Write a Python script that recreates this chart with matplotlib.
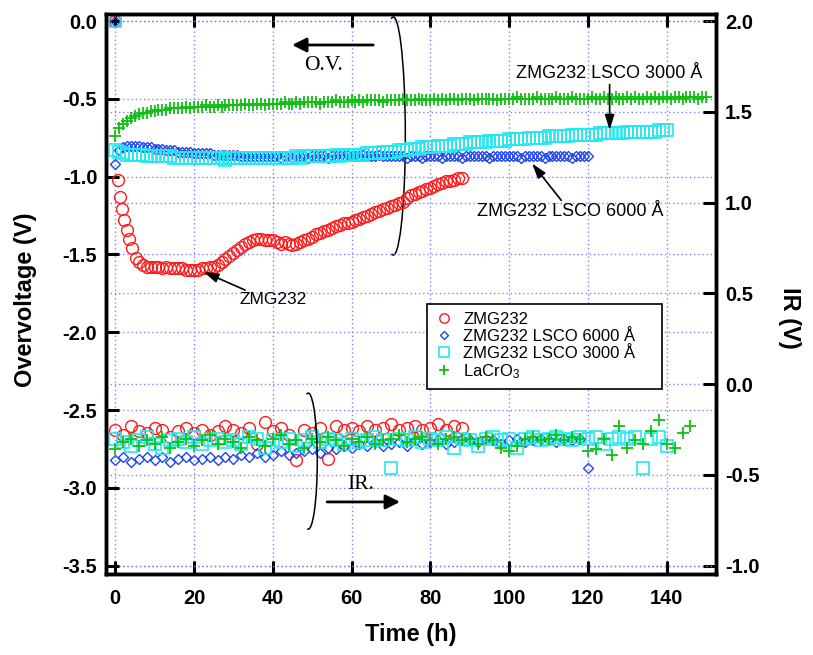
import numpy as np
import matplotlib
matplotlib.use("Agg")
import matplotlib.pyplot as plt
from matplotlib.patches import Arc

plt.rcParams['font.family'] = ['Liberation Sans', 'DejaVu Sans']
plt.rcParams['axes.unicode_minus'] = False
plt.rcParams['mathtext.fontset'] = 'custom'
plt.rcParams['mathtext.rm'] = 'Liberation Sans'
plt.rcParams['mathtext.it'] = 'Liberation Sans'

# ---- overvoltage data (left axis) ----
red_t = [0.0, 0.8, 1.3, 1.8, 2.3, 2.9, 3.6, 4.4, 5.2, 6.1, 7.0] + list(range(8, 89))
red_ov = [0.0, -1.02, -1.13, -1.21, -1.28, -1.34, -1.40, -1.46, -1.52, -1.55, -1.57,
          -1.58, -1.58, -1.58, -1.58, -1.59, -1.58, -1.59, -1.59, -1.59, -1.59,
          -1.60, -1.60, -1.60, -1.60, -1.59, -1.59, -1.58, -1.58, -1.57, -1.55,
          -1.53, -1.51, -1.49, -1.47, -1.45, -1.43, -1.42, -1.41, -1.40, -1.40,
          -1.41, -1.41, -1.41, -1.42, -1.43, -1.42, -1.43, -1.44, -1.43, -1.42,
          -1.41, -1.40, -1.39, -1.37, -1.36, -1.35, -1.34, -1.33, -1.32, -1.31,
          -1.30, -1.30, -1.29, -1.28, -1.27, -1.26, -1.25, -1.24, -1.23, -1.22,
          -1.21, -1.20, -1.19, -1.18, -1.17, -1.16, -1.14, -1.12, -1.11, -1.10,
          -1.09, -1.08, -1.07, -1.06, -1.05, -1.04, -1.03, -1.03, -1.02, -1.01, -1.01]

blue_t = [0, 0] + list(range(1, 121))
blue_ov = [0.0, -0.92,
           -0.83, -0.81, -0.80, -0.80, -0.80, -0.80, -0.81, -0.81, -0.81, -0.82,
           -0.82, -0.82, -0.83, -0.83, -0.83, -0.84, -0.84, -0.84, -0.84, -0.85,
           -0.85, -0.85, -0.85, -0.85, -0.86, -0.86, -0.86, -0.86, -0.86, -0.86,
           -0.86, -0.87, -0.87, -0.87, -0.87, -0.87, -0.87, -0.87, -0.87, -0.87,
           -0.87, -0.88, -0.87, -0.87, -0.88, -0.87, -0.87, -0.87, -0.88, -0.87,
           -0.87, -0.87, -0.87, -0.88, -0.87, -0.87, -0.87, -0.87, -0.86, -0.87,
           -0.87, -0.87, -0.86, -0.87, -0.87, -0.87, -0.86, -0.87, -0.87, -0.87,
           -0.87, -0.87, -0.87, -0.88, -0.87, -0.87, -0.87, -0.88, -0.87, -0.87,
           -0.87, -0.87, -0.88, -0.87, -0.87, -0.87, -0.87, -0.88, -0.87, -0.87,
           -0.87, -0.87, -0.87, -0.87, -0.88, -0.87, -0.87, -0.87, -0.87, -0.87,
           -0.87, -0.87, -0.88, -0.87, -0.87, -0.87, -0.87, -0.87, -0.88, -0.87,
           -0.87, -0.87, -0.87, -0.87, -0.87, -0.88, -0.87, -0.87, -0.87, -0.87]

cyan_t = [0, 0] + list(range(1, 141))
cyan_ov = [0.0, -0.83,
           -0.84, -0.85, -0.86, -0.86, -0.86, -0.86, -0.86, -0.87, -0.87, -0.87,
           -0.87, -0.87, -0.87, -0.87, -0.88, -0.88, -0.88, -0.88, -0.88, -0.88,
           -0.88, -0.88, -0.88, -0.88, -0.88, -0.88, -0.88, -0.89, -0.88, -0.88,
           -0.88, -0.88, -0.88, -0.88, -0.88, -0.88, -0.88, -0.88, -0.88, -0.88,
           -0.88, -0.88, -0.88, -0.88, -0.88, -0.87, -0.88, -0.87, -0.87, -0.87,
           -0.87, -0.87, -0.87, -0.87, -0.87, -0.86, -0.87, -0.86, -0.86, -0.86,
           -0.86, -0.86, -0.86, -0.85, -0.85, -0.85, -0.85, -0.84, -0.84, -0.84,
           -0.84, -0.83, -0.83, -0.83, -0.82, -0.82, -0.82, -0.81, -0.81, -0.81,
           -0.81, -0.80, -0.80, -0.80, -0.80, -0.79, -0.79, -0.79, -0.79, -0.78,
           -0.78, -0.78, -0.78, -0.78, -0.77, -0.77, -0.77, -0.77, -0.77, -0.76,
           -0.76, -0.76, -0.76, -0.76, -0.75, -0.75, -0.75, -0.75, -0.75, -0.74,
           -0.74, -0.74, -0.74, -0.74, -0.74, -0.73, -0.73, -0.73, -0.73, -0.73,
           -0.73, -0.73, -0.72, -0.72, -0.72, -0.72, -0.72, -0.72, -0.72, -0.71,
           -0.71, -0.71, -0.71, -0.71, -0.71, -0.71, -0.71, -0.70, -0.70, -0.70]

green_t = list(range(0, 151))
green_ov = [-0.74, -0.69, -0.66, -0.64, -0.62, -0.61, -0.60, -0.59, -0.59, -0.58,
            -0.58, -0.57, -0.57, -0.57, -0.56, -0.56, -0.56, -0.56, -0.55, -0.56,
            -0.55, -0.55, -0.55, -0.54, -0.55, -0.55, -0.54, -0.55, -0.54, -0.54,
            -0.54, -0.54, -0.54, -0.53, -0.54, -0.54, -0.53, -0.53, -0.54, -0.53,
            -0.53, -0.53, -0.53, -0.52, -0.53, -0.53, -0.52, -0.53, -0.52, -0.52,
            -0.52, -0.52, -0.53, -0.52, -0.52, -0.52, -0.51, -0.52, -0.52, -0.52,
            -0.51, -0.52, -0.51, -0.52, -0.51, -0.51, -0.51, -0.51, -0.52, -0.51,
            -0.51, -0.51, -0.51, -0.50, -0.51, -0.51, -0.51, -0.50, -0.51, -0.51,
            -0.51, -0.50, -0.51, -0.50, -0.51, -0.50, -0.50, -0.51, -0.50, -0.50,
            -0.50, -0.51, -0.50, -0.50, -0.50, -0.50, -0.50, -0.51, -0.50, -0.50,
            -0.50, -0.50, -0.49, -0.50, -0.50, -0.50, -0.50, -0.49, -0.50, -0.50,
            -0.50, -0.50, -0.49, -0.50, -0.50, -0.50, -0.49, -0.50, -0.50, -0.50,
            -0.50, -0.49, -0.50, -0.50, -0.49, -0.50, -0.50, -0.49, -0.50, -0.50,
            -0.49, -0.50, -0.49, -0.50, -0.50, -0.49, -0.50, -0.49, -0.50, -0.49,
            -0.49, -0.50, -0.49, -0.49, -0.50, -0.49, -0.49, -0.49, -0.50, -0.49, -0.49]

# ---- IR data (right axis), one point every 2 h ----
red_ir_t = list(range(0, 89, 2))
red_ir = [-0.25, -0.28, -0.23, -0.26, -0.27, -0.24, -0.25, -0.29, -0.26, -0.24,
          -0.27, -0.25, -0.28, -0.26, -0.23, -0.25, -0.27, -0.24, -0.33, -0.21,
          -0.26, -0.24, -0.28, -0.42, -0.25, -0.27, -0.24, -0.41, -0.23, -0.25,
          -0.24, -0.26, -0.23, -0.25, -0.24, -0.22, -0.25, -0.24, -0.23, -0.25,
          -0.24, -0.22, -0.25, -0.23, -0.24]

blue_ir_t = list(range(0, 121, 2))
blue_ir = [-0.42, -0.40, -0.43, -0.41, -0.40, -0.42, -0.40, -0.43, -0.41, -0.40,
           -0.42, -0.41, -0.40, -0.42, -0.40,
           -0.41, -0.39, -0.40, -0.38, -0.40, -0.39, -0.37, -0.39, -0.38, -0.37,
           -0.36, -0.38, -0.35, -0.36, -0.34,
           -0.35, -0.33, -0.34, -0.32, -0.34, -0.33, -0.32, -0.34, -0.31, -0.33,
           -0.32, -0.31, -0.33, -0.32, -0.30,
           -0.31, -0.32, -0.30, -0.31, -0.33, -0.31, -0.30, -0.32, -0.31, -0.30,
           -0.31, -0.32, -0.30, -0.31, -0.30,
           -0.46]

cyan_ir_t = list(range(0, 141, 2))
cyan_ir = [-0.30, -0.32, -0.34, -0.31, -0.29, -0.33, -0.35, -0.31, -0.30, -0.32,
           -0.29, -0.33, -0.31, -0.30, -0.32,
           -0.31, -0.33, -0.29, -0.30, -0.35, -0.31, -0.32, -0.30, -0.34, -0.31,
           -0.29, -0.32, -0.30, -0.31, -0.33,
           -0.30, -0.32, -0.31, -0.29, -0.31, -0.46, -0.30, -0.31, -0.29, -0.32,
           -0.30, -0.31, -0.29, -0.35, -0.30,
           -0.31, -0.34, -0.30, -0.29, -0.31, -0.30, -0.35, -0.30, -0.29, -0.31,
           -0.30, -0.29, -0.30, -0.31, -0.29,
           -0.30, -0.29, -0.33, -0.30, -0.29, -0.30, -0.29, -0.46, -0.30, -0.29, -0.34]

green_ir_t = list(range(0, 147, 2))
green_ir = [-0.36, -0.32, -0.30, -0.34, -0.31, -0.33, -0.29, -0.35, -0.32, -0.30,
            -0.34, -0.31, -0.28, -0.33, -0.30,
            -0.32, -0.35, -0.29, -0.31, -0.34, -0.30, -0.28, -0.33, -0.31, -0.35,
            -0.30, -0.32, -0.29, -0.31, -0.34,
            -0.30, -0.32, -0.29, -0.33, -0.31, -0.30, -0.28, -0.32, -0.30, -0.29,
            -0.31, -0.33, -0.30, -0.29, -0.31,
            -0.30, -0.33, -0.29, -0.31, -0.35, -0.37, -0.34, -0.30, -0.29, -0.31,
            -0.30, -0.28, -0.31, -0.29, -0.30,
            -0.37, -0.36, -0.30, -0.39, -0.23, -0.35, -0.31, -0.33, -0.26, -0.20,
            -0.33, -0.35, -0.27, -0.23]

labels = ['ZMG232', 'ZMG232 LSCO 6000 Å', 'ZMG232 LSCO 3000 Å', 'LaCrO$_3$']
red, blue, cyan, green = '#ff1a1a', '#1f45f0', '#22e8f0', '#10c010'
gridc = '#8080ff'

fig = plt.figure(figsize=(8.13, 6.55), dpi=100)
ax = fig.add_axes([0.130, 0.1237, 0.7507, 0.8549])
ax2 = ax.twinx()
ax.set_zorder(ax2.get_zorder() + 1)
ax.patch.set_visible(False)

# overvoltage
ax.plot(red_t, red_ov, 'o', ls='none', mfc='none', mec=red, ms=8.5, mew=1.0, label=labels[0])
ax.plot(blue_t, blue_ov, 'D', ls='none', mfc='none', mec=blue, ms=5.5, mew=1.0, label=labels[1])
ax.plot(cyan_t, cyan_ov, 's', ls='none', mfc='none', mec=cyan, ms=9, mew=1.2, label=labels[2])
ax.plot(green_t, green_ov, '+', ls='none', color=green, ms=9, mew=1.3, label=labels[3])

# IR
ax2.plot(red_ir_t, red_ir, 'o', ls='none', mfc='none', mec=red, ms=8.5, mew=1.0)
ax2.plot(blue_ir_t, blue_ir, 'D', ls='none', mfc='none', mec=blue, ms=5.5, mew=1.0)
ax2.plot(cyan_ir_t, cyan_ir, 's', ls='none', mfc='none', mec=cyan, ms=8.5, mew=1.2)
ax2.plot(green_ir_t, green_ir, '+', ls='none', color=green, ms=9, mew=1.3)

ax.set_xlim(-2.4, 152.5)
ax.set_ylim(-3.553, 0.045)
ax2.set_ylim(-1.0457, 2.0385)
ax.set_xticks(np.arange(0, 141, 20))
ax.set_yticks(np.arange(-3.5, 0.01, 0.5))
ax2.set_yticks(np.arange(-1.0, 2.01, 0.5))
ax.set_yticklabels(['%.1f' % v for v in np.arange(-3.5, 0.01, 0.5)])
ax2.set_yticklabels(['%.1f' % v for v in np.arange(-1.0, 2.01, 0.5)])

ax.grid(True, color=gridc, ls=(0, (1, 2)), lw=1)
ax2.grid(True, axis='y', color=gridc, ls=(0, (1, 2)), lw=1)

ax.tick_params(direction='in', length=9.5, width=2.2, labelsize=14.5, top=True, right=False, pad=6)
ax.tick_params(axis='x', pad=11)
ax2.tick_params(direction='in', length=9.5, width=2.2, labelsize=14.5, left=False, pad=6.5)
for lbl in ax.get_xticklabels() + ax.get_yticklabels() + ax2.get_yticklabels():
    lbl.set_fontweight('bold')
for a in (ax, ax2):
    for s in a.spines.values():
        s.set_linewidth(2.5)

ax.set_xlabel('Time (h)', fontsize=17, fontweight='bold')
ax.set_ylabel('Overvoltage (V)', fontsize=17, fontweight='bold')
ax2.set_ylabel('IR (V)', fontsize=17, fontweight='bold', rotation=270)
ax.xaxis.set_label_coords(0.5, -0.087)
ax.yaxis.set_label_coords(-0.1126, 0.489)
ax2.yaxis.set_label_coords(1.139, 0.457)

# annotations
arr = dict(arrowstyle='-|>,head_length=0.7,head_width=0.22', color='black', lw=1.2,
           mutation_scale=13, shrinkA=0, shrinkB=0)
ax.annotate('ZMG232 LSCO 3000 Å', xy=(125.5, -0.70), xytext=(125.5, -0.39), fontsize=13,
            ha='center', va='bottom', arrowprops=arr)
ax.annotate('ZMG232 LSCO 6000 Å', xy=(105.8, -0.915), xytext=(115.5, -1.17), fontsize=13,
            ha='center', va='top', arrowprops=arr)
ax.annotate('', xy=(22.4, -1.611), xytext=(33.0, -1.729), arrowprops=arr)
ax.text(40.1, -1.787, 'ZMG232', fontsize=12.5, ha='center', va='center')

big = dict(arrowstyle='-|>,head_length=0.86,head_width=0.43', color='black', lw=2,
           mutation_scale=10, shrinkA=0, shrinkB=0)
ax.annotate('', xy=(44.9, -0.154), xytext=(65.5, -0.154), arrowprops=big)
ax.text(53.0, -0.283, 'O.V.', fontsize=15.5, family='Liberation Serif', ha='center', va='center')
ax.annotate('', xy=(72.3, -3.09), xytext=(53.8, -3.09), arrowprops=big)
ax.text(62.4, -2.98, 'IR.', fontsize=15.5, family='Liberation Serif', ha='center', va='center')

ax.add_patch(Arc((70.6, -0.739), 6.1, 1.53, theta1=240, theta2=125, color='black', lw=1.1))
ax.add_patch(Arc((49.0, -2.828), 4.6, 0.874, theta1=240, theta2=135, color='black', lw=1.1))

x0, y0, x1, y1 = 427 / 813, 1 - 392 / 655, 662 / 813, 1 - 304 / 655
leg = ax.legend(loc='upper left', bbox_to_anchor=(x0, y0, x1 - x0, y1 - y0), mode='expand',
                bbox_transform=fig.transFigure, borderaxespad=0, fontsize=12,
                numpoints=1, markerscale=0.8, handlelength=1.0, handletextpad=0.68,
                borderpad=0.5, labelspacing=0.1, fancybox=False, framealpha=1,
                edgecolor='black')
leg.get_frame().set_linewidth(1.2)

fig.savefig('out.png', dpi=100)
